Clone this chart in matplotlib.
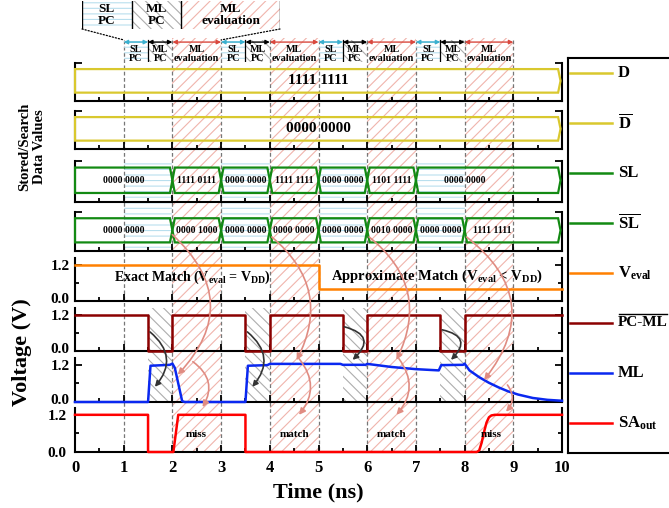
import matplotlib

matplotlib.use("Agg")
import matplotlib.pyplot as plt
from matplotlib.patches import Polygon, Rectangle, ConnectionPatch
from matplotlib.transforms import ScaledTranslation
import numpy as np

plt.rcParams["font.family"] = ["Liberation Serif", "DejaVu Serif"]
plt.rcParams["font.weight"] = "bold"
plt.rcParams["mathtext.fontset"] = "custom"
plt.rcParams["mathtext.rm"] = "Liberation Serif:bold"
plt.rcParams["mathtext.bf"] = "Liberation Serif:bold"
plt.rcParams["mathtext.it"] = "Liberation Serif:bold"
plt.rcParams["hatch.linewidth"] = 0.8

# ---- data ----
cycle_starts = [1, 3, 5, 7]  # SL PC -> +0.5 ML PC -> +1 ML evaluation (1 ns)
d_word = "1111 1111"
dbar_word = "0000 0000"
sl_edges = [0, 2, 3, 4, 5, 6, 7, 10]
sl_words = ["0000 0000", "1111 0111", "0000 0000", "1111 1111", "0000 0000", "1101 1111", "0000 0000"]
sl_word_t = [1, 2.5, 3.5, 4.5, 5.5, 6.5, 8.0]
slb_edges = [0, 2, 3, 4, 5, 6, 7, 8, 10]
slb_words = ["0000 0000", "0000 1000", "0000 0000", "0000 0000", "0000 0000", "0010 0000", "0000 0000", "1111 1111"]
slb_word_t = [1, 2.5, 3.5, 4.5, 5.5, 6.5, 7.5, 8.57]

veval_t = [0, 5, 5, 10]
veval_v = [1.2, 1.2, 0.38, 0.38]
pcml_t = [0, 1.5, 1.5, 2, 2, 3.5, 3.5, 4, 4, 5.5, 5.5, 6, 6, 7.5, 7.5, 8, 8, 10]
pcml_v = [1.2, 1.2, 0, 0, 1.2, 1.2, 0, 0, 1.2, 1.2, 0, 0, 1.2, 1.2, 0, 0, 1.2, 1.2]
ml_t = [0, 1.5, 1.55, 1.95, 2.0, 2.05, 2.2, 2.25, 3.5, 3.55, 3.95, 4.0, 5.45, 5.5, 5.97, 6.0,
        6.5, 7.0, 7.47, 7.52, 7.97, 8.0, 8.1, 8.3, 8.5, 8.7, 8.9, 9.1, 9.4, 9.7, 10]
ml_v = [0, 0, 1.17, 1.2, 1.24, 1.1, 0.03, 0, 0, 1.17, 1.19, 1.23, 1.23, 1.2, 1.2, 1.23,
        1.13, 1.06, 1.02, 1.19, 1.2, 1.24, 1.02, 0.8, 0.62, 0.47, 0.34, 0.24, 0.13, 0.07, 0.04]
sa_t = [0, 1.5, 1.5, 2.02, 2.12, 3.5, 3.5, 8.25, 8.3, 8.35, 8.4, 8.45, 8.5, 8.55, 8.62, 10]
sa_v = [1.2, 1.2, 0, 0, 1.2, 1.2, 0, 0, 0.05, 0.3, 0.65, 0.95, 1.12, 1.18, 1.2, 1.2]
sa_words = ["miss", "match", "match", "miss"]
sa_word_t = [2.5, 4.5, 6.5, 8.55]

C_D = "#D9C82E"
C_SL = "#138A13"
C_VE = "#FF8000"
C_PC = "#8B0000"
C_ML = "#0A28F0"
C_SA = "#FF0000"
RED_H = "#F0B4AC"
BLUE_H = "#B9DFEE"
GRAY_H = "#ADADAD"
RED_A = "#E08C82"

# ---- layout (pixels) ----
FW, FH = 669, 508
X0, X1 = 75, 562
tops = [63, 111, 161, 212, 258, 308, 358, 408]
bots = [101, 149, 202, 251, 301, 351, 402, 452]


def rect(x0, x1, top, bot):
    return [x0 / FW, 1 - bot / FH, (x1 - x0) / FW, (bot - top) / FH]


fig = plt.figure(figsize=(FW / 100, FH / 100), dpi=100)

# background: hatched phases + dashed grid through everything
bg = fig.add_axes(rect(X0, X1, 38, 452), zorder=-5)
bg.set_xlim(0, 10)
bg.set_ylim(452, 38)
bg.axis("off")
for s in cycle_starts:
    bg.add_patch(Rectangle((s + 1, 38), 1, 414, hatch="///", ec=RED_H, fc="none", lw=0))
    bg.add_patch(Rectangle((s, tops[2]), 1, bots[3] - tops[2], hatch="---", ec=BLUE_H, fc="none", lw=0))
    bg.add_patch(Rectangle((s + 0.5, tops[5]), 0.5, bots[6] - tops[5], hatch="\\\\\\", ec=GRAY_H, fc="none", lw=0))
for t in range(1, 10):
    bg.plot([t, t], [40, 452], ls=(0, (3, 2)), color="#777777", lw=0.9)

axes = []
for i in range(8):
    ax = fig.add_axes(rect(X0, X1, tops[i], bots[i]))
    ax.set_facecolor("none")
    ax.set_xlim(0, 10)
    ax.spines["top"].set_visible(False)
    for s in ["left", "right", "bottom"]:
        ax.spines[s].set_linewidth(1.5)
    ax.set_xticks(range(11))
    ax.set_xticks(np.arange(0.5, 10, 1), minor=True)
    ax.tick_params(which="both", direction="in", top=False, right=True, width=1.3,
                   labelbottom=False, labelsize=12)
    ax.tick_params(which="major", length=5)
    ax.tick_params(which="minor", length=3)
    if i < 4:
        ax.set_ylim(0, 1)
        ax.set_yticks([0, 1])
        ax.set_yticklabels([])
        ax.set_yticks([], minor=True)
    else:
        ax.set_ylim(0, 1.42)
        ax.set_yticks([0, 1.2])
        ax.set_yticks([0.6], minor=True)
        ax.tick_params(axis="y", labelsize=11, pad=4)
        ax.set_yticklabels(["0.0", "1.2"])
        lab0 = ax.get_yticklabels()[0]
        lab0.set_transform(lab0.get_transform() + ScaledTranslation(0, 3 / 100, fig.dpi_scale_trans))
    axes.append(ax)
axD, axDb, axSL, axSLb, axVe, axPC, axML, axSA = axes


def bus(ax, edges, color, d=0.05):
    lo, hi, mid = 0.22, 0.84, 0.53
    for a, b in zip(edges[:-1], edges[1:]):
        b = min(b, 9.97)
        if a == 0:
            pts = [(0, lo), (0, hi)]
        else:
            pts = [(a, mid), (a + d, hi)]
        pts += [(b - d, hi), (b, mid), (b - d, lo)]
        if a != 0:
            pts += [(a + d, lo)]
        ax.add_patch(Polygon(pts, closed=True, fill=False, ec=color, lw=1.6, clip_on=False, zorder=3))


bus(axD, [0, 10], C_D)
axD.text(5, 0.53, d_word, ha="center", va="center", fontsize=11)
bus(axDb, [0, 10], C_D)
axDb.text(5, 0.53, dbar_word, ha="center", va="center", fontsize=11)
bus(axSL, sl_edges, C_SL)
for w, t in zip(sl_words, sl_word_t):
    axSL.text(t, 0.53, w, ha="center", va="center", fontsize=7)
bus(axSLb, slb_edges, C_SL)
for w, t in zip(slb_words, slb_word_t):
    axSLb.text(t, 0.53, w, ha="center", va="center", fontsize=7)

axVe.plot(veval_t, veval_v, color=C_VE, lw=1.8, zorder=3, clip_on=False)
axVe.text(2.4, 0.77, r"Exact Match (V$_{\mathbf{eval}}$ = V$_{\mathbf{DD}}$)", ha="center", va="center", fontsize=10)
axVe.text(7.44, 0.83, r"Approximate Match (V$_{\mathbf{eval}}$ < V$_{\mathbf{DD}}$)", ha="center", va="center", fontsize=10.5)
axPC.plot(pcml_t, pcml_v, color=C_PC, lw=1.8, zorder=3, clip_on=False)
axML.plot(ml_t, ml_v, color=C_ML, lw=1.8, zorder=3, clip_on=False)
axSA.plot(sa_t, sa_v, color=C_SA, lw=1.8, zorder=3, clip_on=False)
for w, t in zip(sa_words, sa_word_t):
    axSA.text(t, 0.55, w, ha="center", va="center", fontsize=8)
axSA.tick_params(labelbottom=True, pad=6)

# phase label row
ph = fig.add_axes(rect(X0, X1, 38, 62))
ph.set_xlim(0, 10)
ph.set_ylim(0, 1)
ph.axis("off")
for s in cycle_starts:
    ph.add_patch(Rectangle((s, 0), 0.5, 0.92, hatch="---", ec=BLUE_H, fc="none", lw=0))
    ph.add_patch(Rectangle((s + 0.5, 0), 0.5, 0.92, hatch="\\\\\\", ec=GRAY_H, fc="none", lw=0))
    ph.plot([s + 0.5, s + 0.5], [0, 0.92], color="black", lw=0.9)
    for a, b, c, lab in [(s, s + 0.5, "#3AB0CF", "SL\nPC"), (s + 0.5, s + 1, "black", "ML\nPC"),
                         (s + 1, s + 2, "#D9483E", "ML\nevaluation")]:
        ph.annotate("", xy=(a, 0.83), xytext=(b, 0.83),
                    arrowprops=dict(arrowstyle="<|-|>", color=c, lw=1, shrinkA=0, shrinkB=0, mutation_scale=6))
        ph.text((a + b) / 2, 0.34, lab, ha="center", va="center", fontsize=7.3, linespacing=0.95)

# magnified callout
co = fig.add_axes(rect(82, 280, 1, 29))
co.set_xlim(1, 3)
co.set_ylim(0, 1)
co.axis("off")
co.add_patch(Rectangle((1, 0), 0.5, 1, hatch="---", ec=BLUE_H, fc="none", lw=0))
co.add_patch(Rectangle((1.5, 0), 0.5, 1, hatch="\\\\\\", ec=GRAY_H, fc="none", lw=0))
co.add_patch(Rectangle((2, 0), 1, 1, hatch="///", ec=RED_H, fc="none", lw=0))
for t in [1, 1.5, 2, 3]:
    co.plot([t, t], [0, 1], color="black", lw=1)
for x, lab in [(1.25, "SL\nPC"), (1.75, "ML\nPC"), (2.5, "ML\nevaluation")]:
    co.text(x, 0.5, lab, ha="center", va="center", fontsize=9.5, linespacing=1.0)
for t in [1, 3]:
    fig.add_artist(ConnectionPatch(xyA=(t, 0), coordsA=co.transData, xyB=(t, 0.92), coordsB=ph.transData,
                                   ls=(0, (1, 1.5)), color="black", lw=0.9))

# curved cause/effect arrows
red_arrows = [
    (axSLb, 2.0, 0.42, axML, 2.11, 0.88, -0.5), (axML, 2.42, 1.3, axSA, 2.62, 1.45, -0.45),
    (axSLb, 4.04, 0.36, axML, 4.55, 1.35, -0.4), (axML, 4.6, 1.4, axSA, 4.6, 1.2, -0.4),
    (axSLb, 6.04, 0.36, axML, 6.6, 1.36, -0.4), (axML, 6.65, 1.4, axSA, 6.6, 1.2, -0.4),
    (axSLb, 8.04, 0.36, axML, 8.4, 0.71, -0.5), (axML, 8.88, 0.55, axSA, 8.85, 1.3, -0.4),
]
for a1, t1, v1, a2, t2, v2, rad in red_arrows:
    fig.add_artist(ConnectionPatch(xyA=(t1, v1), coordsA=a1.transData, xyB=(t2, v2), coordsB=a2.transData,
                                   arrowstyle="-|>", connectionstyle=f"arc3,rad={rad}", color=RED_A,
                                   lw=1.2, mutation_scale=9, shrinkA=0, shrinkB=0))
gray_arrows = [
    (1.54, 0.63, 1.64, 0.49, -0.5), (3.54, 0.63, 3.64, 0.49, -0.5),
    (5.53, 0.8, 5.7, 1.36, -0.9), (7.54, 0.7, 7.72, 1.36, -0.9),
]
for t1, v1, t2, v2, rad in gray_arrows:
    fig.add_artist(ConnectionPatch(xyA=(t1, v1), coordsA=axPC.transData, xyB=(t2, v2), coordsB=axML.transData,
                                   arrowstyle="-|>", connectionstyle=f"arc3,rad={rad}", color="#333333",
                                   lw=1.2, mutation_scale=8, shrinkA=0, shrinkB=0))

# legend box on the right
lg = fig.add_axes(rect(568, 700, 58, 453))
lg.set_xlim(568, 700)
lg.set_ylim(453, 58)
lg.set_xticks([])
lg.set_yticks([])
for s in lg.spines.values():
    s.set_linewidth(1.5)
leg_labels = ["D", r"$\overline{\mathbf{D}}$", "SL", r"$\overline{\mathbf{SL}}$", r"V$_{\mathbf{eval}}$",
              "PC-ML", "ML", r"SA$_{\mathbf{out}}$"]
leg_colors = [C_D, C_D, C_SL, C_SL, C_VE, C_PC, C_ML, C_SA]
for k, (lab, c) in enumerate(zip(leg_labels, leg_colors)):
    y = 73 + 50 * k
    lg.plot([570, 612], [y, y], color=c, lw=1.8)
    txt = lg.text(618, y, lab, ha="left", va="center", fontsize=11 if lab == "PC-ML" else 12)
    if lab == "PC-ML":
        pcml_txt = txt

# overline over PC-ML drawn from the rendered text width (y axis of lg runs downward)
renderer = fig.canvas.get_renderer()
bb = pcml_txt.get_window_extent(renderer)
(xa, ya), (xb, yb) = lg.transData.inverted().transform([[bb.x0, bb.y0], [bb.x1, bb.y1]])
lg.plot([xa + 0.5, xb - 0.5], [yb - 2.5, yb - 2.5], color="black", lw=1.0)

fig.text(32 / FW, 1 - 147 / FH, "Stored/Search\nData Values", rotation=90, ha="center", va="center", fontsize=10.5)
fig.text(22 / FW, 1 - 352 / FH, "Voltage (V)", rotation=90, ha="center", va="center", fontsize=16)
fig.text(318 / FW, 1 - 492 / FH, "Time (ns)", ha="center", va="center", fontsize=16)

fig.savefig("out.png", dpi=100)
plt.close(fig)
